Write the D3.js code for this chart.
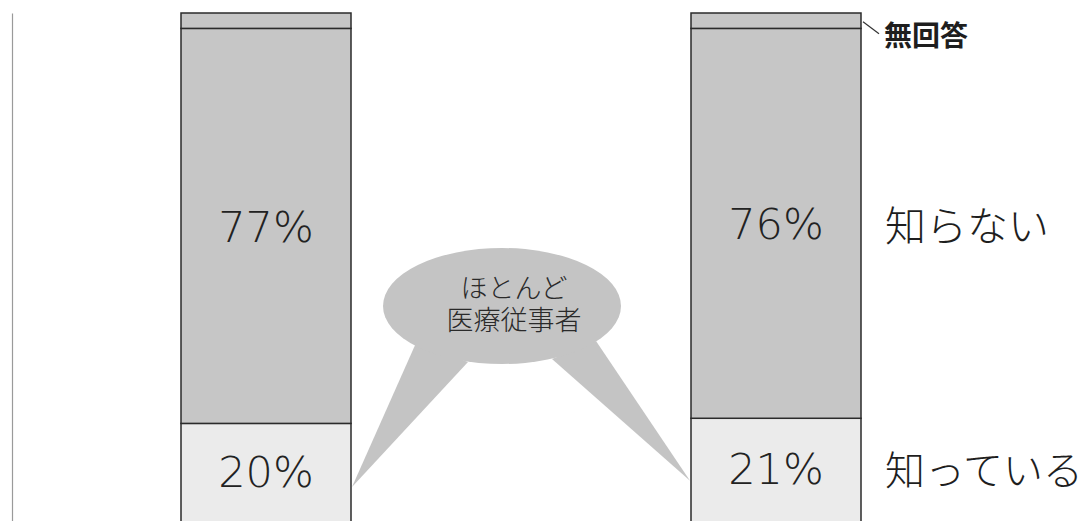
<!DOCTYPE html>
<html>
<head>
<meta charset="utf-8">
<script src="https://cdn.jsdelivr.net/npm/d3@7"></script>
<style>
  html, body { margin: 0; padding: 0; background: #fff; }
  svg { display: block; }
</style>
</head>
<body>
<svg id="chart" width="1083" height="521"></svg>
<script>
// Survey groups (not labelled on the chart)
const groups = ["g1", "g2"];
// Share of respondents per answer, bottom to top (%)
const known   = [20, 21];
const unknown = [77, 76];
const noReply = [3, 3];
// Answer labels shown at the right of the second bar
const answerLabels = ["知っている", "知らない", "無回答"];
const calloutLines = ["ほとんど", "医療従事者"];

const svg = d3.select("#chart");

const x = d3.scaleBand().domain(groups).range([181, 861])
  .paddingInner(340 / 510).paddingOuter(0);
const y = d3.scaleLinear().domain([0, 100]).range([526, 13]);

const jpFont = "'Noto Sans CJK JP', 'Noto Sans', sans-serif";
// compact line metrics for the two-line bubble text
const bubbleFont = "'DejaVu Sans', 'Noto Sans CJK JP', sans-serif";
const numFont = "'DejaVu Sans', Verdana, sans-serif";

// left frame line
svg.append("g")
  .attr("transform", "translate(12,0)")
  .call(d3.axisLeft(y).ticks(0).tickSizeOuter(0))
  .call(g => g.select(".domain").attr("stroke", "#9a9a9a").attr("stroke-width", 1.2));

// stacked series
const rows = groups.map((g, i) => ({ group: g, known: known[i], unknown: unknown[i], noReply: noReply[i] }));
const keys = ["known", "unknown", "noReply"];
const fills = { known: "#ebebeb", unknown: "#c6c6c6", noReply: "#c6c6c6" };
const stacked = d3.stack().keys(keys)(rows);

// callout bubble (drawn beneath the bars so the tails tuck under the edges)
const bubble = svg.append("g").attr("fill", "#c4c4c4");
const cx = 502, cy = 306, rx = 119, ry = 58;
const tipL = [x("g1") + x.bandwidth() + 1, y(known[0] * 0.38)];
const tipR = [x("g2") - 1, y(known[1] * 0.42)];
bubble.append("path")
  .attr("d", `M${cx - 86},${cy + 37} L${tipL[0]},${tipL[1]} L${cx - 34},${cy + 56} Z`);
bubble.append("path")
  .attr("d", `M${cx + 50},${cy + 53} L${tipR[0]},${tipR[1]} L${cx + 94},${cy + 35} Z`);
bubble.append("ellipse")
  .attr("cx", cx).attr("cy", cy).attr("rx", rx).attr("ry", ry);
svg.append("g").selectAll("text")
  .data(calloutLines)
  .join("text")
  .attr("x", cx + 12)
  .attr("y", (d, i) => 298 + i * 32)
  .attr("text-anchor", "middle")
  .attr("font-family", bubbleFont)
  .attr("font-weight", 300)
  .attr("font-size", 27)
  .attr("fill", "#2a2a2a")
  .text(d => d);

const layers = svg.append("g").selectAll("g")
  .data(stacked)
  .join("g")
  .attr("fill", d => fills[d.key]);

layers.selectAll("rect")
  .data(d => d)
  .join("rect")
  .attr("x", d => x(d.data.group))
  .attr("width", x.bandwidth())
  .attr("y", d => y(d[1]))
  .attr("height", d => y(d[0]) - y(d[1]))
  .attr("stroke", "#2b2b2b")
  .attr("stroke-width", 1.5);

// percentage labels inside the two larger segments
const inner = [];
stacked.forEach(s => {
  if (s.key === "noReply") return;
  s.forEach(d => inner.push({ group: d.data.group, v: d[1] - d[0], mid: (d[0] + d[1]) / 2, key: s.key }));
});
svg.append("g").selectAll("text")
  .data(inner)
  .join("text")
  .attr("x", d => x(d.group) + x.bandwidth() / 2)
  .attr("y", d => d.key === "known" ? y(d.mid) + 12 : y(d.mid) + 16)
  .attr("text-anchor", "middle")
  .attr("font-family", numFont)
  .attr("font-weight", 200)
  .attr("font-size", 43)
  .attr("fill", "#222")
  .text(d => d.v + "%");

// answer labels on the right of the last bar
const lastIdx = groups.length - 1;
const lastRight = x(groups[lastIdx]) + x.bandwidth();
const lastStack = stacked.map(s => s[lastIdx]);
const labelX = lastRight + 24;

svg.append("text")
  .attr("x", labelX).attr("y", y((lastStack[0][0] + lastStack[0][1]) / 2) + 13)
  .attr("font-family", jpFont).attr("font-weight", 300).attr("font-size", 40)
  .attr("fill", "#1e1e1e").text(answerLabels[0]);
svg.append("text")
  .attr("x", labelX).attr("y", y((lastStack[1][0] + lastStack[1][1]) / 2) + 18)
  .attr("font-family", jpFont).attr("font-weight", 300).attr("font-size", 41)
  .attr("fill", "#1e1e1e").text(answerLabels[1]);

// no-answer leader line and label
const naMid = y((lastStack[2][0] + lastStack[2][1]) / 2);
svg.append("line")
  .attr("x1", lastRight + 2).attr("y1", naMid + 1)
  .attr("x2", lastRight + 18).attr("y2", naMid + 13)
  .attr("stroke", "#333").attr("stroke-width", 1.2);
svg.append("text")
  .attr("x", lastRight + 23).attr("y", naMid + 25)
  .attr("font-family", jpFont).attr("font-weight", 700).attr("font-size", 28)
  .attr("fill", "#1e1e1e").text(answerLabels[2]);
</script>
</body>
</html>
